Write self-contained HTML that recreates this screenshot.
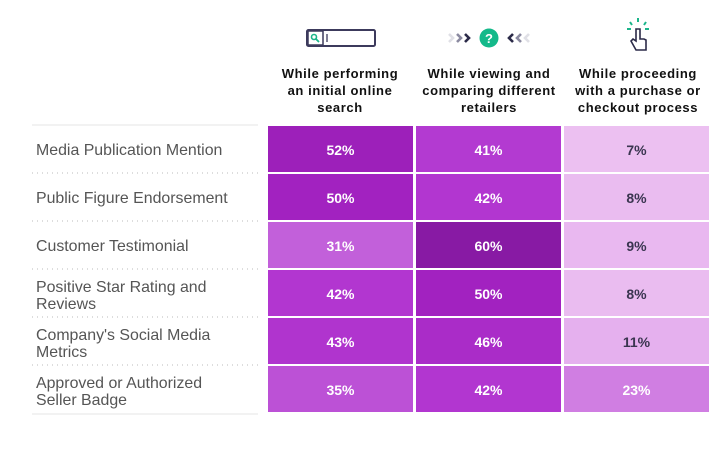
<!DOCTYPE html>
<html><head><meta charset="utf-8"><style>
body{margin:0;background:#fff;width:728px;height:448px;overflow:hidden;font-family:"Liberation Sans",sans-serif}
</style></head><body>
<svg id="c" width="728" height="448">
<g>
<rect x="307" y="30" width="68" height="16" rx="1.5" fill="none" stroke="#3c3a5c" stroke-width="2"/>
<rect x="308" y="31" width="15" height="14" fill="#fff" stroke="#3c3a5c" stroke-width="1.5"/>
<circle cx="314" cy="37" r="2.5" fill="none" stroke="#1bb58a" stroke-width="1.6"/>
<line x1="316" y1="39" x2="319" y2="42" stroke="#1bb58a" stroke-width="1.8"/>
<line x1="327" y1="34" x2="327" y2="42" stroke="#3c3a5c" stroke-width="1.3"/>
</g>
<g fill="none" stroke-width="2.6">
<path d="M449 34 l4 4 l-4 4" stroke="#e0e0e6"/><path d="M457 34 l4 4 l-4 4" stroke="#8b8aa0"/><path d="M465 34 l4 4 l-4 4" stroke="#2b2a48"/>
<circle cx="489" cy="38" r="9.5" fill="#14b98a" stroke="none"/>
<text x="489" y="43" text-anchor="middle" fill="#fff" stroke="none" font-size="13" font-weight="bold">?</text>
<path d="M513 34 l-4 4 l4 4" stroke="#2b2a48"/><path d="M521 34 l-4 4 l4 4" stroke="#8b8aa0"/><path d="M529 34 l-4 4 l4 4" stroke="#e0e0e6"/>
</g>
<g>
<g stroke="#1bb58a" stroke-width="2"><line x1="638" y1="18" x2="638" y2="22"/><line x1="630" y1="22" x2="632" y2="25"/><line x1="646" y1="22" x2="644" y2="25"/><line x1="627" y1="29" x2="631" y2="29"/><line x1="645" y1="29" x2="649" y2="29"/></g>
<path d="M636 29 v12 l-3 -2 l-2 2 l5 9 h10 v-10 l-2 -1 l-2 0 l-2 0 v-10 z" fill="none" stroke="#2b2a48" stroke-width="1.6"/>
</g>
<g font-size="13" font-weight="bold" fill="#111" text-anchor="middle" letter-spacing="0.6">
<text x="340" y="78"><tspan x="340">While performing</tspan><tspan x="340" dy="17">an initial online</tspan><tspan x="340" dy="17">search</tspan></text>
<text x="489" y="78"><tspan x="489">While viewing and</tspan><tspan x="489" dy="17">comparing different</tspan><tspan x="489" dy="17">retailers</tspan></text>
<text x="638" y="78"><tspan x="638">While proceeding</tspan><tspan x="638" dy="17">with a purchase or</tspan><tspan x="638" dy="17">checkout process</tspan></text>
</g>
<line x1="32" y1="125" x2="258" y2="125" stroke="#eee" stroke-width="1.5"/>
<line x1="32" y1="414" x2="258" y2="414" stroke="#e4e4e4" stroke-width="1"/>
<g id="cells"></g>
</svg>
<script>
const categories=[["Media Publication Mention"],["Public Figure Endorsement"],["Customer Testimonial"],["Positive Star Rating and","Reviews"],["Company's Social Media","Metrics"],["Approved or Authorized","Seller Badge"]];
const searchValues=[52,50,31,42,43,35];
const compareValues=[41,42,60,50,46,42];
const checkoutValues=[7,8,9,8,11,23];
const series=[searchValues,compareValues,checkoutValues];
const stops=[[0,[244,214,248]],[7,[236,192,241]],[11,[229,176,238]],[23,[208,126,226]],[31,[194,96,218]],[42,[178,54,208]],[50,[162,34,192]],[60,[136,26,164]]];
function color(v){for(let i=1;i<stops.length;i++){if(v<=stops[i][0]||i==stops.length-1){const a=stops[i-1],b=stops[i];let t=(v-a[0])/(b[0]-a[0]);t=Math.max(0,Math.min(1,t));return 'rgb('+a[1].map((c,k)=>Math.round(c+(b[1][k]-c)*t)).join(',')+')';}}}
const NS='http://www.w3.org/2000/svg',g=document.getElementById('cells');
const x=j=>268+148*j, y=i=>126+48*i;
categories.forEach((lines,i)=>{
 const t=document.createElementNS(NS,'text');
 
 
 t.setAttribute('font-size','15.9');t.setAttribute('fill','#555');
 const y0=lines.length==1?y(i)+29:y(i)+22;
 lines.forEach((l,k)=>{const s=document.createElementNS(NS,'tspan');s.setAttribute('x',36);s.setAttribute('y',y0+k*17);s.textContent=l;t.appendChild(s);});
 g.appendChild(t);
 if(i<categories.length-1){const d=document.createElementNS(NS,'line');
 
 
 d.setAttribute('x1',32);d.setAttribute('x2',258);d.setAttribute('y1',y(i)+47);d.setAttribute('y2',y(i)+47);d.setAttribute('stroke','#bbb');d.setAttribute('stroke-dasharray','1 4');g.appendChild(d);}
 series.forEach((vals,j)=>{const v=vals[i];
  const r=document.createElementNS(NS,'rect');
  
  
  r.setAttribute('x',x(j));r.setAttribute('y',y(i));r.setAttribute('width',145);r.setAttribute('height',46);r.setAttribute('fill',color(v));g.appendChild(r);
  const tx=document.createElementNS(NS,'text');
  
  
  tx.setAttribute('x',x(j)+72.5);tx.setAttribute('y',y(i)+29);tx.setAttribute('text-anchor','middle');tx.setAttribute('font-size','14');tx.setAttribute('font-weight','bold');tx.setAttribute('fill',v<15?'#3a3550':'#fff');tx.textContent=v+'%';g.appendChild(tx);});
});
</script>
</body></html>
